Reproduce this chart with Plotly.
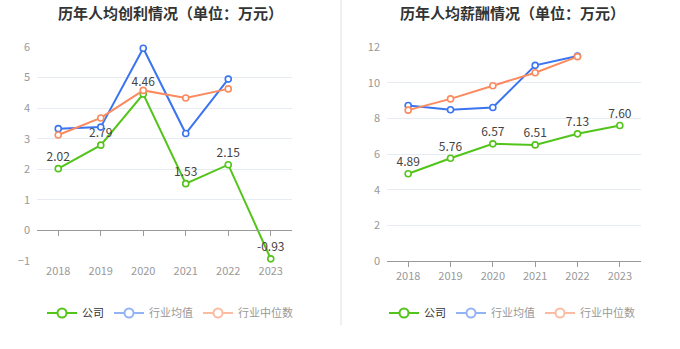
import plotly.graph_objects as go

years = ["2018", "2019", "2020", "2021", "2022", "2023"]

# 人均创利（万元）
profit_company = [2.02, 2.79, 4.46, 1.53, 2.15, -0.93]
profit_ind_mean = [3.33, 3.38, 5.96, 3.17, 4.95, None]
profit_ind_median = [3.12, 3.68, 4.58, 4.33, 4.63, None]

# 人均薪酬（万元）
salary_company = [4.89, 5.76, 6.57, 6.51, 7.13, 7.60]
salary_ind_mean = [8.72, 8.48, 8.61, 10.97, 11.49, None]
salary_ind_median = [8.46, 9.09, 9.83, 10.56, 11.46, None]

series_names = ["公司", "行业均值", "行业中位数"]
line_colors = ["#52c41a", "#3a74f0", "#fb8a5f"]
legend_colors = ["#52c41a", "#93b3f7", "#fdbca2"]
legend_text_colors = ["#333333", "#999999", "#999999"]

W, H = 680, 349
FONT = "Noto Sans CJK SC, Noto Sans, sans-serif"
GRID = "#e6ebf4"
AXIS = "#9a9a9a"

# plot-area extents in pixels
top_px, bottom_px = 47, 261
left_dom = [37 / W, 292 / W]
right_dom = [387 / W, 641 / W]
y_dom = [1 - bottom_px / H, 1 - top_px / H]

left_range = [-1, 6]
right_range = [0, 12]

fig = go.Figure()


def add_series(values, idx, xa, ya, legend, labels=False):
    fig.add_trace(go.Scatter(
        x=years, y=values, xaxis=xa, yaxis=ya,
        mode="lines+markers+text" if labels else "lines+markers",
        line=dict(color=line_colors[idx], width=2),
        marker=dict(symbol="circle", size=6, color="white",
                    line=dict(color=line_colors[idx], width=1.6)),
        text=[f"{v:.2f}" for v in values] if labels else None,
        textposition="top center",
        textfont=dict(family=FONT, size=12, color="#444444"),
        showlegend=False, hoverinfo="skip", cliponaxis=False,
    ))
    # legend entry
    fig.add_trace(go.Scatter(
        x=[None], y=[None], xaxis=xa, yaxis=ya, mode="lines+markers",
        name=f"<span style='color:{legend_text_colors[idx]}'>{series_names[idx]}</span>",
        line=dict(color=legend_colors[idx], width=2),
        marker=dict(symbol="circle", size=9, color="white",
                    line=dict(color=legend_colors[idx], width=2)),
        legend=legend, showlegend=True,
    ))


for i, vals in enumerate([profit_company, profit_ind_mean, profit_ind_median]):
    add_series(vals, i, "x", "y", "legend", labels=(i == 0))
for i, vals in enumerate([salary_company, salary_ind_mean, salary_ind_median]):
    add_series(vals, i, "x2", "y2", "legend2", labels=(i == 0))

# carrier for the zero-level category axis of the left chart
fig.add_trace(go.Scatter(x=years, y=[None] * len(years), xaxis="x3", yaxis="y",
                         showlegend=False, hoverinfo="skip"))

zero_pos = y_dom[0] + (y_dom[1] - y_dom[0]) * (0 - left_range[0]) / (left_range[1] - left_range[0])

tickfont = dict(family=FONT, size=11, color="#999999")

fig.update_layout(
    width=W, height=H,
    margin=dict(l=0, r=0, t=0, b=0, autoexpand=False),
    paper_bgcolor="white", plot_bgcolor="white",
    font=dict(family=FONT),
    xaxis=dict(domain=left_dom, anchor="y", type="category", categoryarray=years,
               range=[-0.5, 5.5], showgrid=False, showline=False, zeroline=False,
               ticks="", tickfont=tickfont, ticklabelstandoff=2),
    xaxis3=dict(domain=left_dom, anchor="free", position=zero_pos, overlaying="x",
                type="category", categoryarray=years, range=[-0.5, 5.5],
                showgrid=False, showline=True, linecolor=AXIS, linewidth=1,
                ticks="outside", ticklen=5, tickcolor=AXIS, showticklabels=False,
                zeroline=False),
    yaxis=dict(domain=y_dom, anchor="x", range=left_range, dtick=1,
               showgrid=True, gridcolor=GRID, gridwidth=1, zeroline=False,
               showline=False, tickfont=tickfont, ticks="", ticklabelstandoff=6),
    xaxis2=dict(domain=right_dom, anchor="y2", type="category", categoryarray=years,
                range=[-0.5, 5.5], showgrid=False, showline=True, linecolor=AXIS,
                linewidth=1, ticks="outside", ticklen=5, tickcolor=AXIS,
                tickfont=tickfont, zeroline=False),
    yaxis2=dict(domain=y_dom, anchor="x2", range=right_range, dtick=2,
                showgrid=True, gridcolor=GRID, gridwidth=1, zeroline=False,
                showline=False, tickfont=tickfont, ticks="", ticklabelstandoff=6),
    legend=dict(orientation="h", x=170 / W, xanchor="center", y=1 - 313 / H,
                yanchor="middle", font=dict(family=FONT, size=11, color="#333333"),
                itemwidth=30, bgcolor="rgba(0,0,0,0)"),
    legend2=dict(orientation="h", x=512 / W, xanchor="center", y=1 - 313 / H,
                 yanchor="middle", font=dict(family=FONT, size=11, color="#333333"),
                 itemwidth=30, bgcolor="rgba(0,0,0,0)"),
    annotations=[
        dict(text="<b>历年人均创利情况（单位：万元）</b>", x=170 / W, y=1 - 12 / H,
             xref="paper", yref="paper", xanchor="center", yanchor="middle",
             showarrow=False, font=dict(family=FONT, size=15, color="#333333")),
        dict(text="<b>历年人均薪酬情况（单位：万元）</b>", x=512 / W, y=1 - 12 / H,
             xref="paper", yref="paper", xanchor="center", yanchor="middle",
             showarrow=False, font=dict(family=FONT, size=15, color="#333333")),
    ],
    shapes=[
        dict(type="line", xref="paper", yref="paper", x0=341 / W, x1=341 / W,
             y0=1 - 325 / H, y1=1, line=dict(color="#f0f0f0", width=2)),
    ],
)

fig.write_html("out.html")
